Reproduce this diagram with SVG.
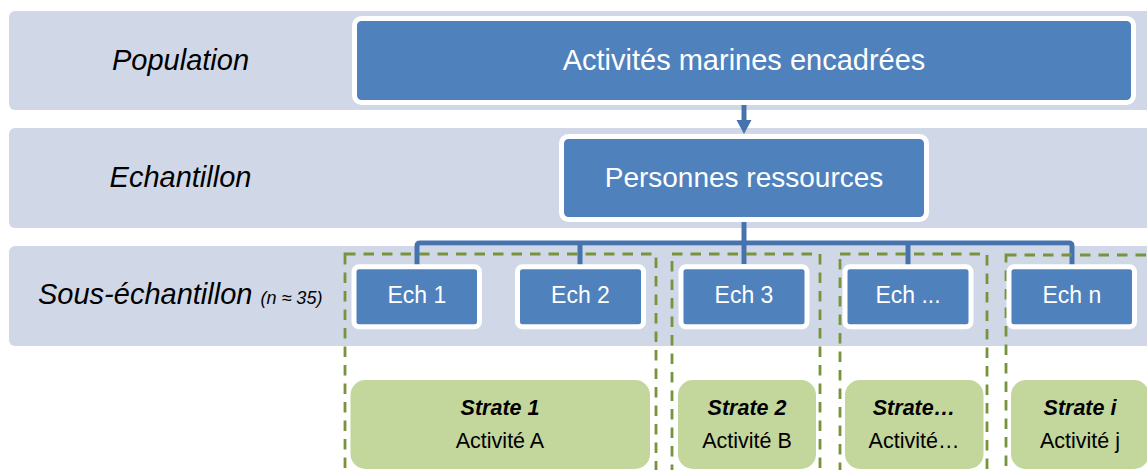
<svg xmlns="http://www.w3.org/2000/svg" width="1147" height="470" viewBox="0 0 1147 470">
<style>
.band{fill:#D0D8E8}
.blue{fill:#4F81BD;stroke:#FFFFFF;stroke-width:5}
.green{fill:#C3D69B}
.dash{fill:none;stroke:#77933C;stroke-width:2.8;stroke-dasharray:10.5 8}
.conn{fill:none;stroke:#4672AE;stroke-width:5;stroke-linejoin:round}
.lbl{font-family:"Liberation Sans",Arial,sans-serif;font-style:italic;fill:#000000}
.wt{font-family:"Liberation Sans",Arial,sans-serif;fill:#FFFFFF;text-anchor:middle}
.st{font-family:"Liberation Sans",Arial,sans-serif;font-size:21.5px;fill:#000000;text-anchor:middle}
.stb{font-weight:bold;font-style:italic}
</style>
<rect width="1147" height="470" fill="#FFFFFF"/>
<g id="bands">
<rect id="band-population" class="band" x="9" y="11" width="1150" height="99" rx="6"/>
<rect id="band-echantillon" class="band" x="9" y="128" width="1150" height="100" rx="6"/>
<rect id="band-sous" class="band" x="9" y="246" width="1150" height="100" rx="6"/>
</g>
<g id="row-labels">
<text id="lbl-population" class="lbl" x="180.5" y="70" font-size="29" text-anchor="middle">Population</text>
<text id="lbl-echantillon" class="lbl" x="180.5" y="187" font-size="29" text-anchor="middle">Echantillon</text>
<text id="lbl-sous" class="lbl" x="38" y="304" font-size="29">Sous-échantillon <tspan font-size="18">(n ≈ 35)</tspan></text>
</g>
<g id="connectors">
<line class="conn" x1="744" y1="103" x2="744" y2="121"/>
<polygon points="736.5,120 751.5,120 744,134" fill="#4672AE"/>
<line class="conn" x1="744" y1="222" x2="744" y2="264"/>
<path class="conn" d="M417,265 V246 Q417,243 420,243 H1069 Q1072,243 1072,246 V265"/>
<line class="conn" x1="580" y1="243" x2="580" y2="265"/>
<line class="conn" x1="908" y1="243" x2="908" y2="265"/>
</g>
<g id="strata-frames">
<rect id="frame-1" class="dash" x="345" y="254" width="311" height="240"/>
<rect id="frame-2" class="dash" x="672" y="254" width="148" height="240"/>
<rect id="frame-3" class="dash" x="840" y="254" width="147" height="240"/>
<rect id="frame-4" class="dash" x="1006" y="255" width="180" height="240"/>
</g>
<g id="node-activites">
<rect class="blue" x="354.5" y="18.5" width="779" height="84" rx="7"/>
<text class="wt" x="744" y="70" font-size="29">Activités marines encadrées</text>
</g>
<g id="node-personnes">
<rect class="blue" x="561.5" y="136.5" width="365" height="83" rx="7"/>
<text class="wt" x="744" y="187" font-size="28">Personnes ressources</text>
</g>
<g id="node-ech1">
<rect class="blue" x="354" y="266.8" width="125.5" height="60" rx="5"/>
<text class="wt" x="416.8" y="303" font-size="23">Ech 1</text>
</g>
<g id="node-ech2">
<rect class="blue" x="517.5" y="266.8" width="126" height="60" rx="5"/>
<text class="wt" x="580.5" y="303" font-size="23">Ech 2</text>
</g>
<g id="node-ech3">
<rect class="blue" x="681" y="266.8" width="126" height="60" rx="5"/>
<text class="wt" x="744" y="303" font-size="23">Ech 3</text>
</g>
<g id="node-echdots">
<rect class="blue" x="845" y="266.8" width="126" height="60" rx="5"/>
<text class="wt" x="908" y="303" font-size="23">Ech ...</text>
</g>
<g id="node-echn">
<rect class="blue" x="1009" y="266.8" width="125.5" height="60" rx="5"/>
<text class="wt" x="1071.8" y="303" font-size="23">Ech n</text>
</g>
<g id="node-strate1">
<rect class="green" x="350.5" y="380" width="299.5" height="89" rx="15"/>
<text class="st" x="500" y="415"><tspan class="stb">Strate 1</tspan></text>
<text class="st" x="500" y="448">Activité A</text>
</g>
<g id="node-strate2">
<rect class="green" x="678" y="380" width="138" height="89" rx="15"/>
<text class="st" x="747" y="415"><tspan class="stb">Strate 2</tspan></text>
<text class="st" x="747" y="448">Activité B</text>
</g>
<g id="node-strate3">
<rect class="green" x="845" y="380" width="138.5" height="89" rx="15"/>
<text class="st" x="914" y="415"><tspan class="stb">Strate…</tspan></text>
<text class="st" x="914" y="448">Activité…</text>
</g>
<g id="node-strate4">
<rect class="green" x="1011" y="380" width="138" height="89" rx="15"/>
<text class="st" x="1080" y="415"><tspan class="stb">Strate i</tspan></text>
<text class="st" x="1080" y="448">Activité j</text>
</g>
</svg>
